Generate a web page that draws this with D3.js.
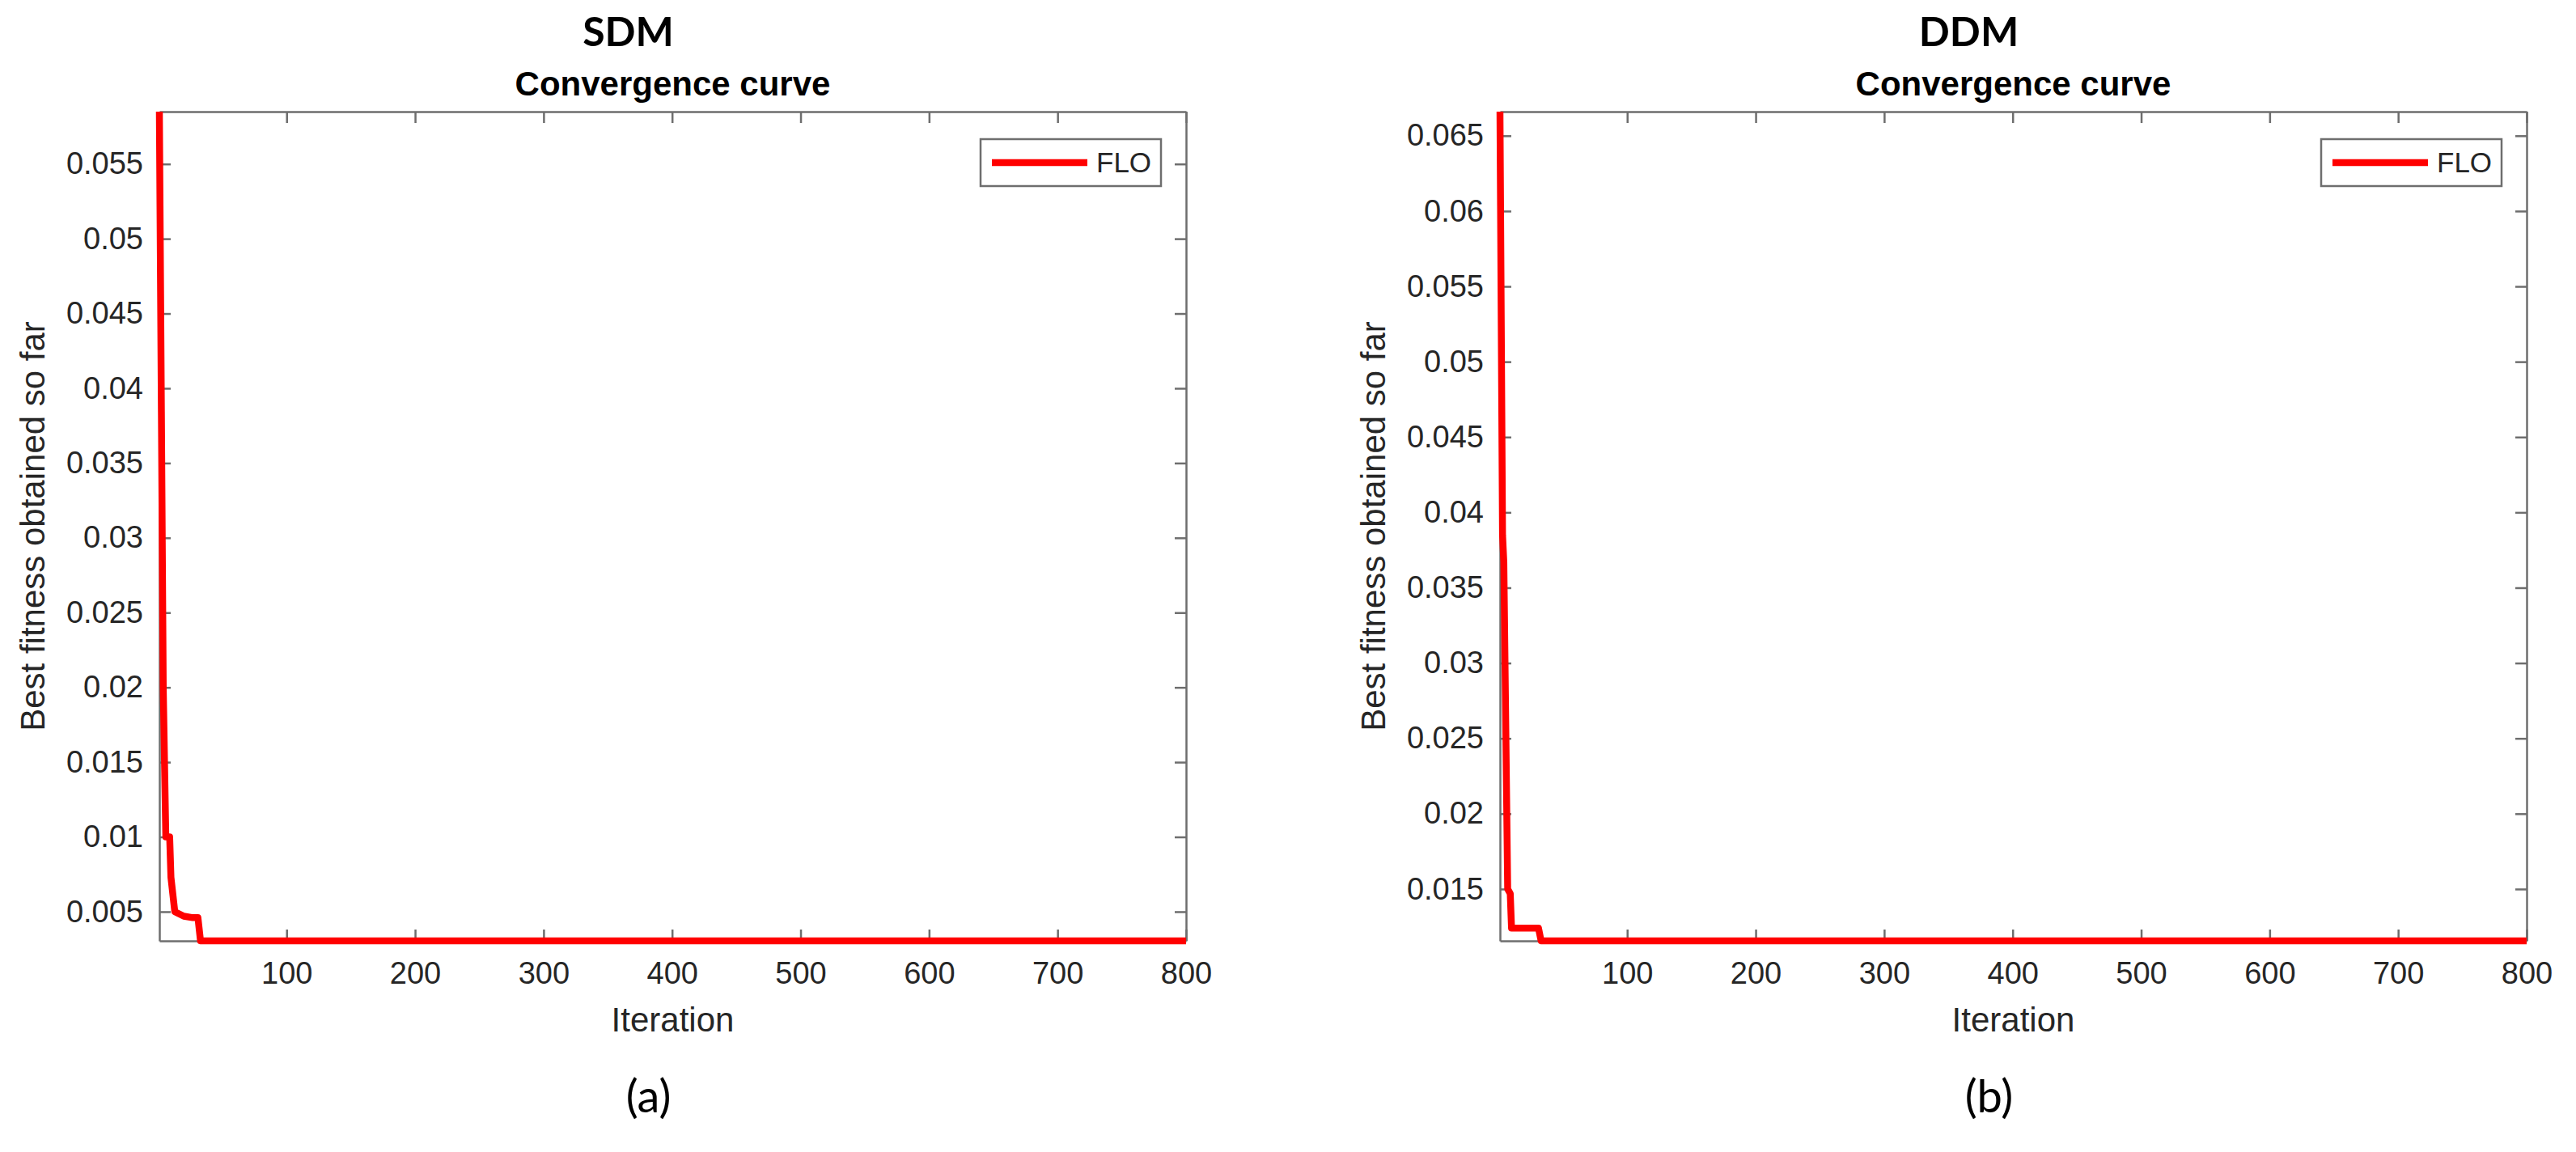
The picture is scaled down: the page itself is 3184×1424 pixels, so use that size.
<!DOCTYPE html>
<html>
<head>
<meta charset="utf-8">
<script src="https://cdn.jsdelivr.net/npm/d3@7"></script>
<style>
  body { margin: 0; background: #fff; }
  svg text { font-family: "Liberation Sans", Arial, sans-serif; }
</style>
</head>
<body>
<svg id="fig" width="3184" height="1424"></svg>
<script>
// Values (change points of the best-so-far curves)
const iterTicks = [100, 200, 300, 400, 500, 600, 700, 800];
const maxIter = 800;

const sdmIter = [1, 4, 6, 9, 10, 13, 20, 27, 31, 33, 800];
const sdmBest = [0.0585, 0.0200, 0.0100, 0.0100, 0.0073, 0.0050, 0.0047, 0.0046, 0.0046, 0.00305, 0.00305];
const sdmTicks = [0.005, 0.01, 0.015, 0.02, 0.025, 0.03, 0.035, 0.04, 0.045, 0.05, 0.055];

const ddmIter = [1, 3, 4, 7, 9, 10, 31, 33, 800];
const ddmBest = [0.0666, 0.0385, 0.0367, 0.0150, 0.0147, 0.0124, 0.0124, 0.01156, 0.01156];
const ddmTicks = [0.015, 0.02, 0.025, 0.03, 0.035, 0.04, 0.045, 0.05, 0.055, 0.06, 0.065];

const panels = [
  { name: "SDM", tag: "(a)", iter: sdmIter, best: sdmBest, ticks: sdmTicks, left: 197 },
  { name: "DDM", tag: "(b)", iter: ddmIter, best: ddmBest, ticks: ddmTicks, left: 1854 }
];

const svg = d3.select("#fig");
const plotTop = 138, plotBottom = 1163, plotW = 1269;
const axisColor = "#6e6e6e", textColor = "#262626";
const tickLen = 14;

const drawPanel = function (p) {
  const h = plotBottom - plotTop;
  const x = d3.scaleLinear().domain([1, maxIter]).range([0, plotW]);
  const y = d3.scaleLinear().domain(d3.extent(p.best)).range([h, 0]);

  const g = svg.append("g").attr("transform", "translate(" + p.left + "," + plotTop + ")");

  // bottom / left axes with inward ticks
  const xa = g.append("g").attr("transform", "translate(0," + h + ")")
    .call(d3.axisBottom(x).tickValues(iterTicks).tickSizeInner(-tickLen).tickSizeOuter(0).tickPadding(tickLen + 12));
  const ya = g.append("g")
    .call(d3.axisLeft(y).tickValues(p.ticks).tickFormat(d3.format("~g")).tickSizeInner(-tickLen).tickSizeOuter(0).tickPadding(tickLen + 6));
  // mirrored top / right ticks
  const xt = g.append("g")
    .call(d3.axisTop(x).tickValues(iterTicks).tickSizeInner(-tickLen).tickSizeOuter(0).tickFormat(""));
  const yr = g.append("g").attr("transform", "translate(" + plotW + ",0)")
    .call(d3.axisRight(y).tickValues(p.ticks).tickSizeInner(-tickLen).tickSizeOuter(0).tickFormat(""));

  [xa, ya, xt, yr].forEach((a) => {
    a.selectAll("path").attr("stroke", axisColor).attr("stroke-width", 2.5);
    a.selectAll("line").attr("stroke", axisColor).attr("stroke-width", 2.5);
    a.selectAll("text").attr("fill", textColor).style("font-size", "38px")
      .style("font-family", "'Liberation Sans', Arial, sans-serif");
  });

  // the curve
  const pts = p.iter.map((d, i) => [d, p.best[i]]);
  g.append("path")
    .datum(pts)
    .attr("fill", "none")
    .attr("stroke", "#ff0000")
    .attr("stroke-width", 8.5)
    .attr("stroke-linejoin", "round")
    .attr("d", d3.line().x((d) => x(d[0])).y((d) => y(d[1])));

  // titles and labels
  g.append("text").attr("x", plotW / 2).attr("y", -20)
    .attr("text-anchor", "middle").attr("fill", "#000")
    .style("font-size", "42px").style("font-weight", "bold")
    .text("Convergence curve");
  g.append("text").attr("x", plotW / 2 - 55).attr("y", -81)
    .attr("text-anchor", "middle").attr("fill", "#000")
    .style("font-family", "Lato, 'Open Sans', sans-serif")
    .style("font-size", "50px").style("font-weight", "bold")
    .text(p.name);
  g.append("text").attr("x", plotW / 2).attr("y", h + 112)
    .attr("text-anchor", "middle").attr("fill", textColor)
    .style("font-size", "42px")
    .text("Iteration");
  g.append("text")
    .attr("transform", "translate(" + (-142) + "," + (h / 2) + ") rotate(-90)")
    .attr("text-anchor", "middle").attr("fill", textColor)
    .style("font-size", "42px")
    .text("Best fitness obtained so far");
  g.append("text").attr("x", plotW / 2 - 30).attr("y", h + 212)
    .attr("text-anchor", "middle").attr("fill", "#000")
    .style("font-family", "Lato, 'Open Sans', sans-serif")
    .style("font-size", "56px")
    .text(p.tag);

  // legend
  const lg = g.append("g").attr("transform", "translate(" + (plotW - 254) + ",34)");
  lg.append("rect").attr("width", 223).attr("height", 58)
    .attr("fill", "#fff").attr("stroke", axisColor).attr("stroke-width", 2.5);
  lg.append("line").attr("x1", 14).attr("x2", 132).attr("y1", 29).attr("y2", 29)
    .attr("stroke", "#ff0000").attr("stroke-width", 8.5);
  lg.append("text").attr("x", 143).attr("y", 41).attr("fill", textColor)
    .style("font-size", "35px").text("FLO");
};

panels.forEach(drawPanel);
</script>
</body>
</html>
